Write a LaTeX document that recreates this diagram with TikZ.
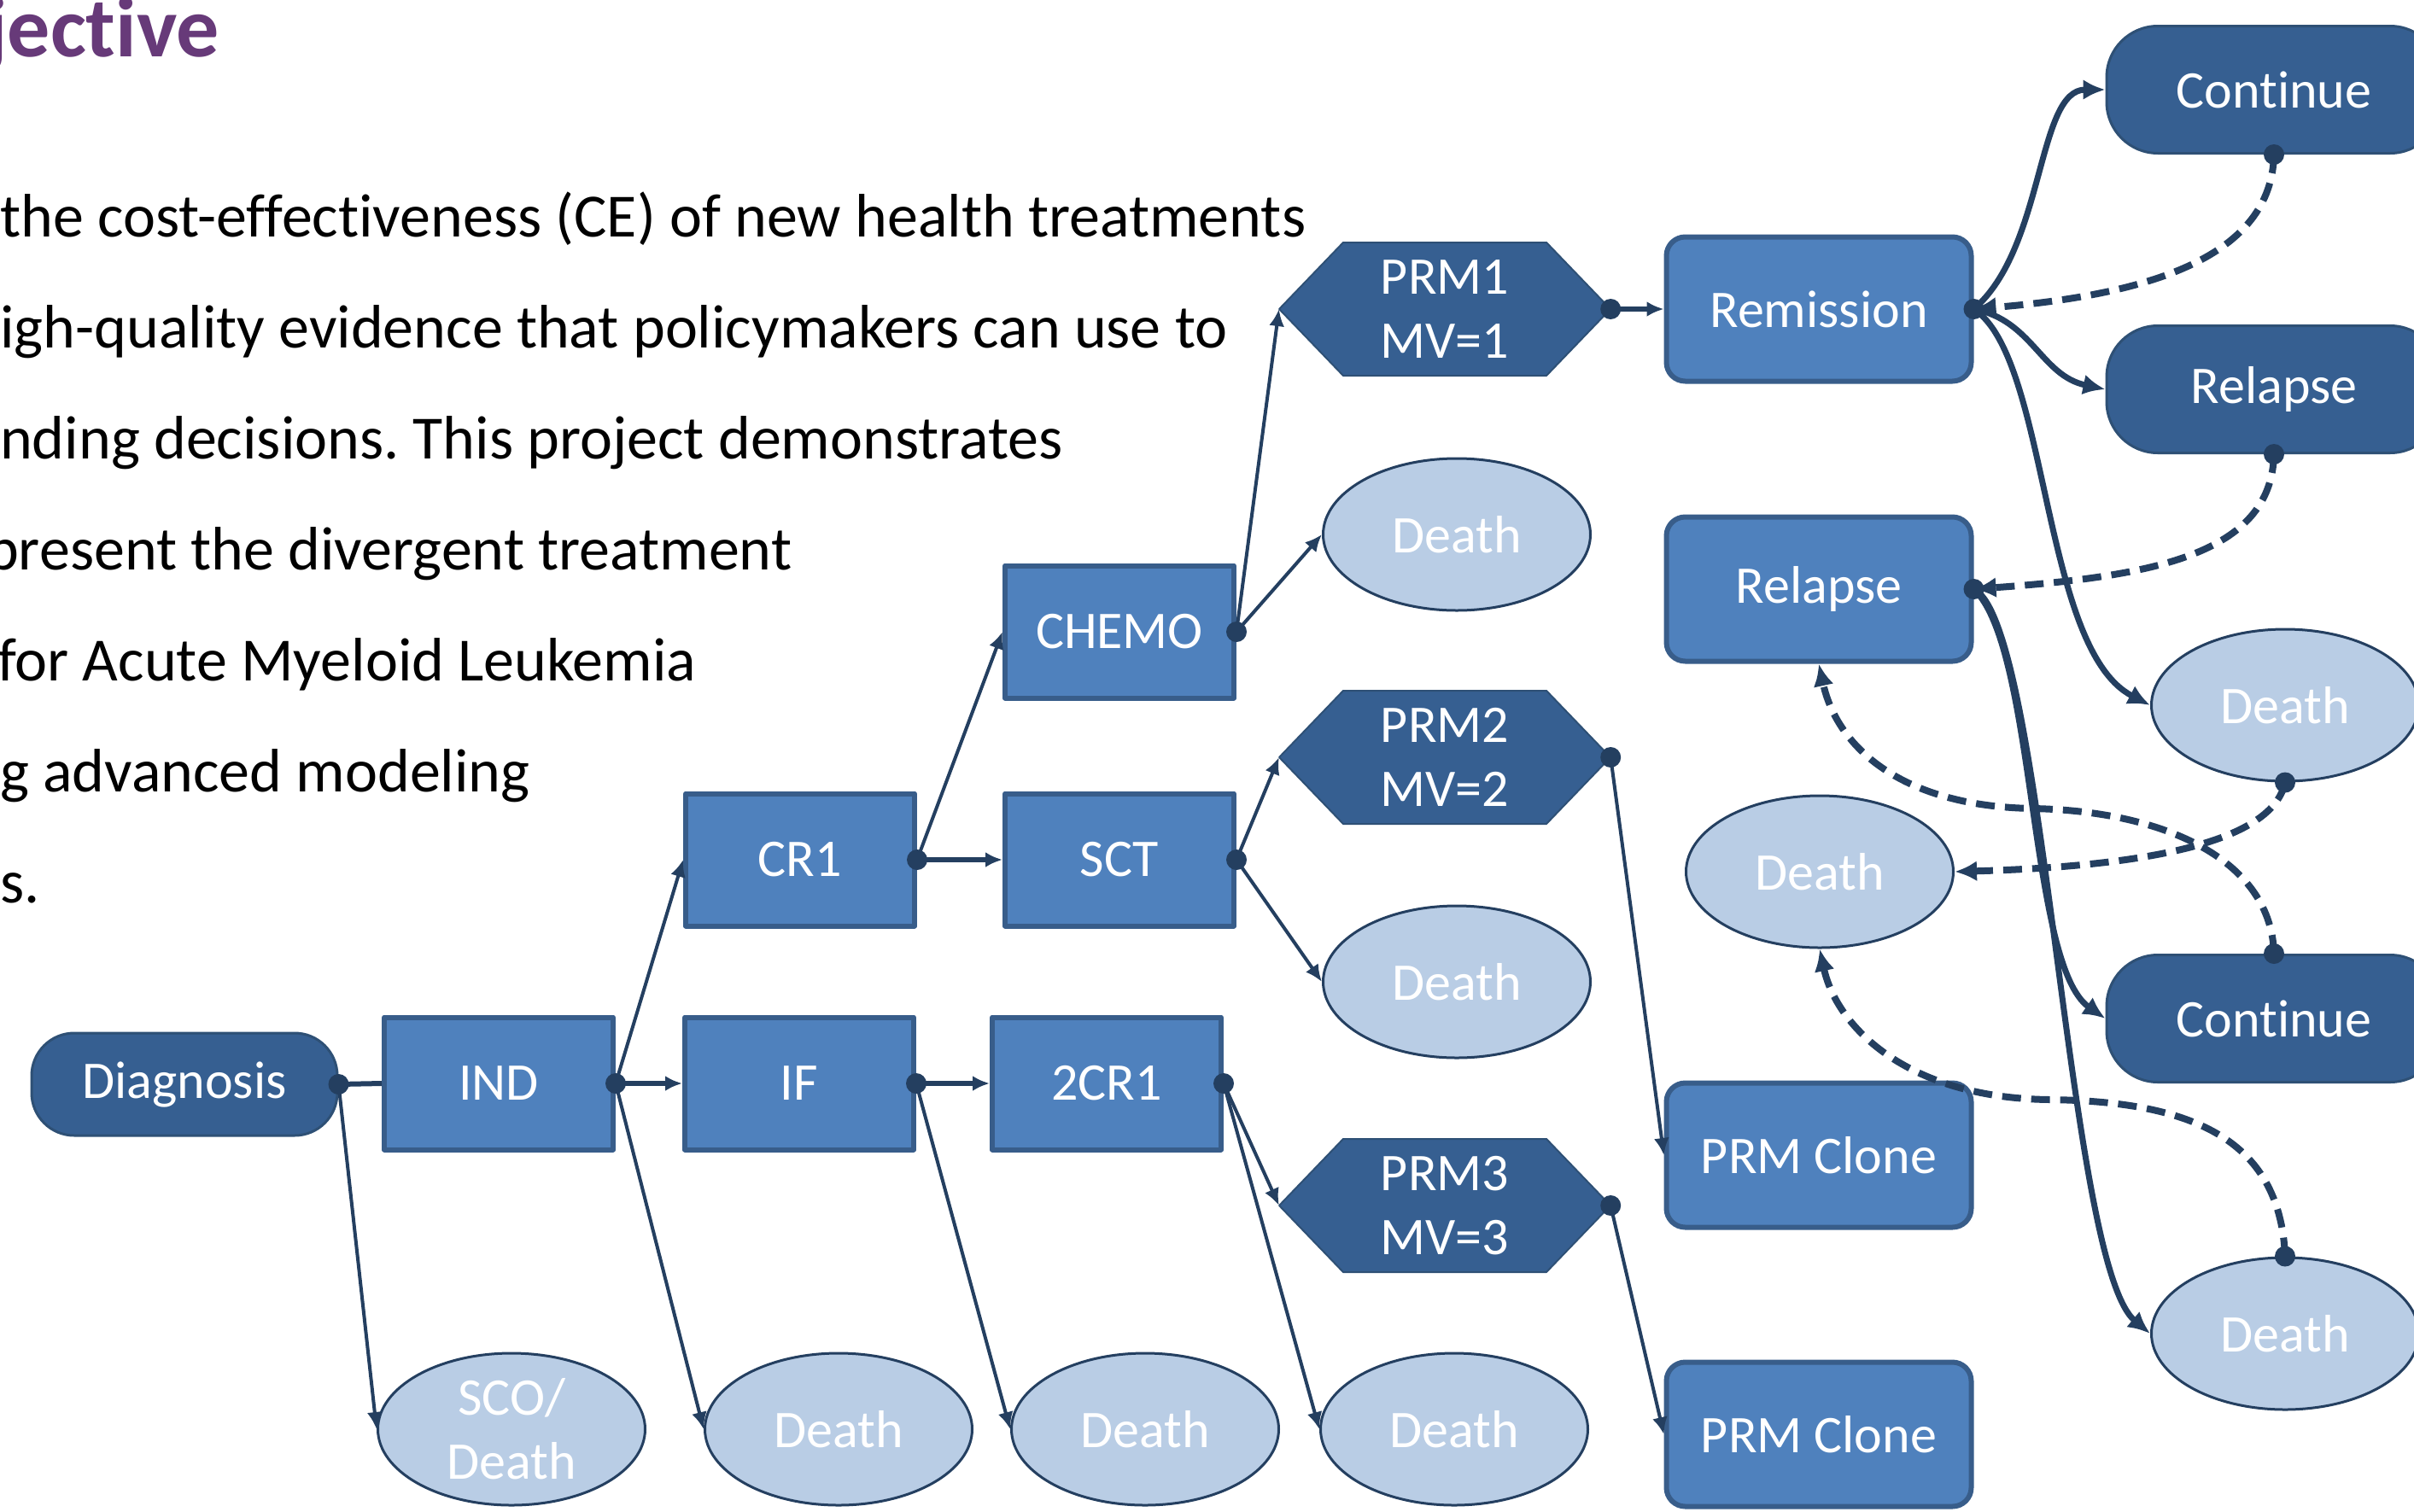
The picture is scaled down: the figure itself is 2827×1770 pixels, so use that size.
\documentclass[tikz,border=0pt]{standalone}
\usepackage{fontspec}
\setmainfont{Carlito}[Ligatures=NoCommon]
\usetikzlibrary{arrows.meta,shapes.geometric}
\definecolor{boxblue}{HTML}{4F81BD}
\definecolor{boxedge}{HTML}{385D8A}
\definecolor{darkblue}{HTML}{365F91}
\definecolor{darkedge}{HTML}{2E5075}
\definecolor{lightblue}{HTML}{B9CDE5}
\definecolor{navy}{HTML}{243F60}
\definecolor{titlepurple}{HTML}{673A79}
\frenchspacing
\begin{document}
\begin{tikzpicture}[x=1pt, y=-1pt, line join=round,
		every node/.style={text=white, font=\fontsize{62}{75}\selectfont},
		sqbox/.style={rectangle, fill=boxblue, draw=boxedge, line width=6pt, minimum width=268pt, minimum height=155pt},
		rndbox/.style={sqbox, rounded corners=22pt, minimum width=357pt, minimum height=169pt},
		pill/.style={rectangle, fill=darkblue, draw=darkedge, line width=3pt, rounded corners=60pt, minimum width=392pt, minimum height=149pt},
		oval/.style={ellipse, fill=lightblue, draw=navy, line width=3pt, minimum width=313pt, minimum height=178pt, inner sep=0pt},
		hextext/.style={inner sep=0pt, minimum width=388pt, minimum height=156pt, align=center},
		body/.style={anchor=base west, text=black, inner sep=0pt, font=\fontsize{72}{86}\selectfont},
		flow/.style={draw=navy, line width=4pt, -{Latex[length=20pt,width=18pt]}},
		curveflow/.style={flow, line width=7pt, -{Latex[length=26pt,width=24pt]}},
		backflow/.style={curveflow, line width=8pt, dash pattern=on 22pt off 12pt}]
		\useasboundingbox (0,0) rectangle (2827,1770);
		
		%heading and text
		\node[anchor=base west, text=titlepurple, inner sep=0pt, font=\fontsize{100}{120}\selectfont\bfseries] (title) at (-17,66) {jective};
		\node[body] (l1) at (0,277) {the cost-effectiveness (CE) of new health treatments};
		\node[body] (l2) at (0,407) {igh-quality evidence that policymakers can use to};
		\node[body] (l3) at (0,537) {nding decisions. This project demonstrates};
		\node[body] (l4) at (-16,667) {present the divergent treatment};
		\node[body] (l5) at (-3,797) {for Acute Myeloid Leukemia};
		\node[body] (l6) at (0,927) {g advanced modeling};
		\node[body] (l7) at (0,1057) {s.};
		
		%treatment steps
		\node[pill, minimum width=358pt, minimum height=120pt, rounded corners=50pt] (diag) at (216,1270) {Diagnosis};
		\node[sqbox] (ind) at (584,1269) {IND};
		\node[sqbox] (iff) at (936,1269) {IF};
		\node[sqbox] (crb) at (1296,1269) {2CR1};
		\node[sqbox] (cra) at (937,1007) {CR1};
		\node[sqbox] (sct) at (1311,1007) {SCT};
		\node[sqbox] (chemo) at (1311,740) {CHEMO};
		
		\foreach \y/\n/\m in {362/1/a, 887/2/b, 1412/3/c}{
			\filldraw[fill=darkblue, draw=darkedge, line width=2pt] (1498,\y) -- ++(75,-78) -- ++(238,0) -- ++(75,78) -- ++(-75,78) -- ++(-238,0) -- cycle;
			\node[hextext] (prm\m) at (1692,\y) {PRM\n\\MV=\n};
		}
		
		\node[rndbox] (rem) at (2130,362) {Remission};
		\node[rndbox] (relb) at (2130,690) {Relapse};
		\node[rndbox] (clonea) at (2130,1353) {PRM Clone};
		\node[rndbox] (cloneb) at (2130,1680) {PRM Clone};
		\node[pill] (conta) at (2663,105) {Continue};
		\node[pill] (relp) at (2663,456) {Relapse};
		\node[pill] (contb) at (2663,1193) {Continue};
		
		%outcomes
		\node[oval] (dchemo) at (1706,626) {Death};
		\node[oval] (dsct) at (1706,1150) {Death};
		\node[oval] (dcrb) at (1703,1674) {Death};
		\node[oval, align=center] (dsco) at (599,1674) {SCO/\\Death};
		\node[oval] (dind) at (982,1674) {Death};
		\node[oval] (dif) at (1341,1674) {Death};
		\node[oval] (dmid) at (2131,1021) {Death};
		\node[oval] (drem) at (2676,826) {Death};
		\node[oval] (drelb) at (2676,1562) {Death};
		
		%straight links
		\draw[flow, -, line width=6pt] (diag.east) -- (ind.west);
		\draw[flow] (diag.east) -- (dsco.west);
		\draw[flow, line width=6pt] (ind.east) -- (iff.west);
		\draw[flow] (ind.east) -- (cra.west);
		\draw[flow] (ind.east) -- (dind.west);
		\draw[flow, line width=6pt] (iff.east) -- (crb.west);
		\draw[flow] (iff.east) -- (dif.west);
		\draw[flow, line width=6pt] (cra.east) -- (sct.west);
		\draw[flow] (cra.east) -- (chemo.west);
		\draw[flow] (chemo.east) -- (prma.west);
		\draw[flow] (chemo.east) -- (dchemo.west);
		\draw[flow] (sct.east) -- (prmb.west);
		\draw[flow] (sct.east) -- (dsct.west);
		\draw[flow] (crb.east) -- (prmc.west);
		\draw[flow] (crb.east) -- (dcrb.west);
		\draw[flow, line width=6pt] (prma.east) -- (rem.west);
		\draw[flow] (prmb.east) -- (clonea.west);
		\draw[flow] (prmc.east) -- (cloneb.west);
		
		%curved links
		\draw[curveflow] (rem.east) .. controls (2395,290) and (2385,105) .. (conta.west);
		\draw[curveflow] (rem.east) .. controls (2380,375) and (2390,440) .. (relp.west);
		\draw[curveflow] (rem.east) .. controls (2400,420) and (2390,760) .. (drem.west);
		\draw[curveflow] (relb.east) .. controls (2385,760) and (2375,1130) .. (contb.west);
		\draw[curveflow] (relb.east) .. controls (2395,730) and (2420,1480) .. (drelb.west);
		
		%back links
		\draw[backflow] (conta.south) .. controls (2660,300) and (2520,345) .. (rem.east);
		\draw[backflow] (relp.south) .. controls (2660,650) and (2520,675) .. (relb.east);
		\draw[backflow] (drem.south) .. controls (2660,990) and (2500,1015) .. (dmid.east);
		\draw[backflow] (contb.north) .. controls (2660,1010) and (2540,950) .. (2380,947) .. controls (2220,944) and (2150,870) .. (relb.south);
		\draw[backflow] (drelb.north) .. controls (2670,1330) and (2560,1290) .. (2400,1288) .. controls (2230,1286) and (2150,1200) .. (dmid.south);
		
		\foreach \s in {diag.east, ind.east, iff.east, cra.east, crb.east, chemo.east, sct.east, prma.east, prmb.east, prmc.east, rem.east, relb.east, conta.south, relp.south, drem.south, contb.north, drelb.north}{
			\fill[navy] (\s) circle (12pt);
		}
\end{tikzpicture}
\end{document}
